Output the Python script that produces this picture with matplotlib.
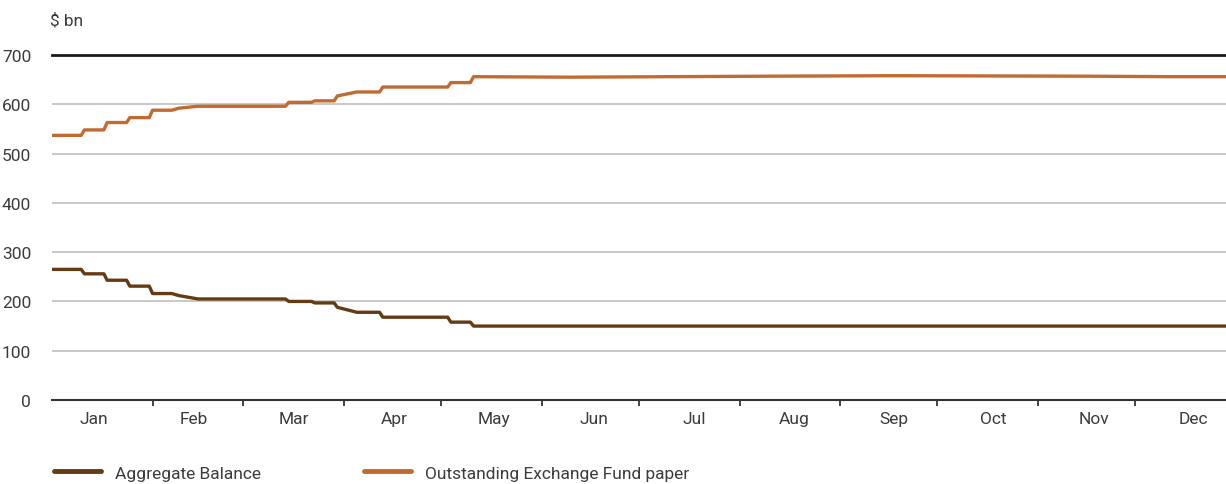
import matplotlib.pyplot as plt
from matplotlib.lines import Line2D

# day of year (0 = 1 Jan) at each change point, values in $ bn
ab_days = [0, 9, 10, 16, 17, 23, 24, 30, 31, 37, 39, 45, 72, 73, 80, 81, 87, 88, 94, 101, 102, 122, 123, 129, 130, 362]
ab_vals = [265, 265, 256, 256, 243, 243, 231, 231, 216, 216, 212, 205, 205, 200, 200, 197, 197, 188, 178, 178, 168, 168, 158, 158, 150, 150]

efp_days = [0, 9, 10, 16, 17, 23, 24, 30, 31, 37, 39, 45, 72, 73, 80, 81, 87, 88, 94, 101, 102, 122, 123, 129, 130,
            160, 220, 260, 320, 345, 362]
efp_vals = [537, 537, 548, 548, 563, 563, 573, 573, 588, 588, 592, 596, 596, 604, 604, 607, 607, 617, 625, 625, 635, 635, 644, 644, 656,
            655, 657, 658, 657, 656, 656]

months = ['Jan', 'Feb', 'Mar', 'Apr', 'May', 'Jun', 'Jul', 'Aug', 'Sep', 'Oct', 'Nov', 'Dec']
month_len = [31, 28, 31, 30, 31, 30, 31, 31, 30, 31, 30, 31]

brown = '#643b14'
orange = '#c16a32'
txt = '#3c3c3c'

plt.rcParams['font.family'] = ['Roboto', 'DejaVu Sans']

fig = plt.figure(figsize=(12.26, 4.85), dpi=100)
ax = fig.add_axes([52 / 1226, 84 / 485, 1 - 52 / 1226, 345 / 485])

ax.plot(ab_days, ab_vals, color=brown, lw=2.4, solid_joinstyle='round')
ax.plot(efp_days, efp_vals, color=orange, lw=2.4, solid_joinstyle='round')

ax.set_xlim(0, 362)
ax.set_ylim(0, 700)

# month boundaries as ticks, names spread evenly under the months
starts = [sum(month_len[:i]) for i in range(12)]
label_pos = [13 + i * 339 / 11 for i in range(12)]
ax.set_xticks(starts[1:])
ax.set_xticklabels([])
ax.set_xticks(label_pos, minor=True)
ax.set_xticklabels(months, minor=True)
ax.tick_params(axis='x', which='major', length=4, width=1.2, color='#222222', direction='out')
ax.tick_params(axis='x', which='minor', length=0, pad=8, labelsize=12.5, labelcolor=txt)

ax.set_yticks(range(0, 701, 100))
ax.tick_params(axis='y', length=0, pad=15, labelsize=12.5, labelcolor=txt)

ax.grid(axis='y', color='#c4c4c4', lw=1.3)
ax.set_axisbelow(True)
for s in ['left', 'right']:
    ax.spines[s].set_visible(False)
ax.spines['top'].set_color('#1a1a1a')
ax.spines['top'].set_linewidth(2)
ax.spines['bottom'].set_color('#333333')
ax.spines['bottom'].set_linewidth(1.5)

fig.text(50 / 1226, 1 - 21 / 485, '$ bn', fontsize=12.5, color=txt, va='center', ha='left')

handles = [Line2D([], [], color=brown, lw=3.5, solid_capstyle='round'),
           Line2D([], [], color=orange, lw=3.5, solid_capstyle='round')]
fig.legend(handles, ['Aggregate Balance', 'Outstanding Exchange Fund paper'],
           loc='center left', bbox_to_anchor=(38 / 1226, 1 - 474 / 485), ncol=2, frameon=False,
           fontsize=12.5, handlelength=2.7, handletextpad=0.85, columnspacing=5.9, labelcolor=txt)

fig.savefig('out.png', dpi=100)
